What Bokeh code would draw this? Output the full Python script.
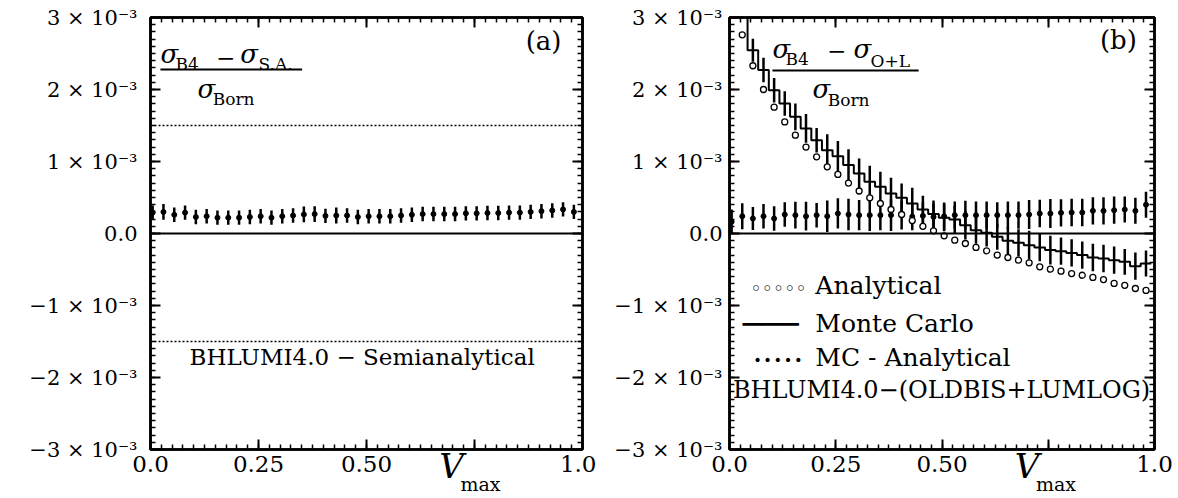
from bokeh.plotting import figure
from bokeh.models import (Range1d, LinearAxis, SingleIntervalTicker, FixedTicker,
                          Label, Span, BoxAnnotation)
from bokeh.layouts import row
from bokeh.embed import file_html
from bokeh.resources import INLINE

FONT = "DejaVu Serif"

# ---------------- data (y values in units of 1e-3) ----------------
V_MAX = [0.005, 0.030, 0.055, 0.080, 0.105, 0.130, 0.155, 0.180, 0.205, 0.230,
         0.255, 0.280, 0.305, 0.330, 0.355, 0.380, 0.405, 0.430, 0.455, 0.480,
         0.505, 0.530, 0.555, 0.580, 0.605, 0.630, 0.655, 0.680, 0.705, 0.730,
         0.755, 0.780, 0.805, 0.830, 0.855, 0.880, 0.905, 0.930, 0.955, 0.980]

# panel (a): BHLUMI4.0 - Semianalytical
SEMI_DIFF = [0.29, 0.30, 0.26, 0.29, 0.23, 0.24, 0.22, 0.22, 0.22, 0.23,
             0.24, 0.22, 0.24, 0.25, 0.265, 0.27, 0.245, 0.25, 0.25, 0.23,
             0.24, 0.24, 0.24, 0.25, 0.26, 0.27, 0.27, 0.27, 0.27, 0.28,
             0.28, 0.285, 0.285, 0.29, 0.29, 0.30, 0.31, 0.32, 0.335, 0.30]
SEMI_ERR = [0.10, 0.11, 0.10, 0.10, 0.10, 0.10, 0.10, 0.10, 0.10, 0.10,
            0.10, 0.10, 0.10, 0.10, 0.11, 0.11, 0.10, 0.11, 0.10, 0.10,
            0.10, 0.10, 0.10, 0.10, 0.10, 0.10, 0.10, 0.10, 0.10, 0.10,
            0.10, 0.10, 0.10, 0.10, 0.10, 0.10, 0.10, 0.10, 0.10, 0.10]
SEMI_BAND = [-1.5, 1.5]

# panel (b): analytical and Monte Carlo start at the second V_max point
ANALYTICAL = [2.76, 2.33, 2.00, 1.755, 1.55, 1.366, 1.20, 1.065, 0.926, 0.82,
              0.70, 0.59, 0.495, 0.417, 0.333, 0.264, 0.18, 0.10, 0.037, -0.032,
              -0.093, -0.139, -0.194, -0.24, -0.30, -0.333, -0.37, -0.407, -0.463, -0.495,
              -0.523, -0.556, -0.58, -0.61, -0.64, -0.694, -0.72, -0.764, -0.79]
MONTE_CARLO = [3.25, 2.546, 2.27, 1.99, 1.806, 1.62, 1.46, 1.296, 1.157, 1.074,
               0.95, 0.833, 0.72, 0.648, 0.556, 0.495, 0.417, 0.333, 0.27, 0.22,
               0.194, 0.116, 0.046, 0.01, -0.046, -0.10, -0.13, -0.162, -0.194, -0.23,
               -0.245, -0.27, -0.30, -0.333, -0.347, -0.37, -0.394, -0.454, -0.417]
MC_ERR = [0.18, 0.16, 0.17, 0.17, 0.17, 0.185, 0.20, 0.17, 0.22, 0.21,
          0.22, 0.21, 0.22, 0.21, 0.22, 0.20, 0.22, 0.19, 0.19, 0.19,
          0.19, 0.20, 0.19, 0.19, 0.18, 0.19, 0.19, 0.20, 0.19, 0.20,
          0.19, 0.19, 0.19, 0.19, 0.19, 0.19, 0.18, 0.19, 0.18]
MC_MINUS_AN = [0.162, 0.24, 0.208, 0.24, 0.208, 0.264, 0.255, 0.24, 0.255, 0.24,
               0.278, 0.264, 0.255, 0.255, 0.255, 0.255, 0.255, 0.235, 0.245, 0.23,
               0.24, 0.255, 0.255, 0.255, 0.255, 0.255, 0.255, 0.255, 0.264, 0.278,
               0.278, 0.287, 0.292, 0.292, 0.315, 0.315, 0.324, 0.333, 0.315, 0.40]
MC_MINUS_AN_ERR = [0.17, 0.18, 0.16, 0.17, 0.17, 0.17, 0.185, 0.20, 0.17, 0.22,
                   0.21, 0.22, 0.21, 0.22, 0.21, 0.22, 0.20, 0.19, 0.19, 0.19,
                   0.19, 0.19, 0.20, 0.19, 0.19, 0.18, 0.19, 0.19, 0.20, 0.19,
                   0.20, 0.19, 0.19, 0.19, 0.19, 0.19, 0.19, 0.18, 0.18, 0.18]
BIN_HALF = 0.0125

Y_TICKS = [-3, -2, -1, 0, 1, 2, 3]
Y_TICK_LABELS = {t: ("0.0" if t == 0 else ("−" if t < 0 else "") + f"{abs(t)} × 10⁻³")
                 for t in Y_TICKS}
X_TICK_LABELS = {0: "0.0", 0.25: "0.25", 0.5: "0.50", 0.75: "", 1: "1.0"}
# axis title V_max (em spaces shift it under the 0.75 tick)
X_TITLE_MAIN = "\u2003" * 5 + "V"
X_TITLE_SUB = "\u2003" * 12 + "max"


def lab(p, x, y, text, size, style="normal", align="left", font=FONT, **kw):
    p.add_layout(Label(x=x, y=y, text=text, text_font=font, text_font_size=size,
                       text_font_style=style, text_align=align, text_baseline="middle",
                       text_color="black", **kw))


def style_axis(ax, standoff=None, size="23px"):
    ax.major_tick_in = 10
    ax.major_tick_out = 0
    ax.minor_tick_in = 5
    ax.minor_tick_out = 0
    ax.major_tick_line_width = 2
    ax.minor_tick_line_width = 1.5
    ax.axis_line_width = 2.5
    ax.axis_line_color = "black"
    ax.major_tick_line_color = "black"
    ax.minor_tick_line_color = "black"
    if standoff is not None:
        ax.major_label_text_font = FONT
        ax.major_label_text_font_size = size
        ax.major_label_text_color = "black"
        ax.major_label_standoff = standoff
    else:
        ax.major_label_text_font_size = "1px"
        ax.major_label_text_color = None
        ax.major_label_standoff = 0


def axis_title(ax, text, size, style, standoff):
    ax.axis_label = text
    ax.axis_label_text_font = FONT
    ax.axis_label_text_font_size = size
    ax.axis_label_text_font_style = style
    ax.axis_label_text_color = "black"
    ax.axis_label_standoff = standoff


def make_panel(frame_w, border_left, border_right, ylab_off):
    p = figure(frame_width=frame_w, frame_height=432,
               min_border_left=border_left, min_border_right=border_right,
               min_border_top=17, min_border_bottom=48,
               x_range=Range1d(0, 1), y_range=Range1d(-3, 3),
               output_backend="svg", toolbar_location=None)
    p.xgrid.visible = False
    p.ygrid.visible = False
    p.outline_line_color = "black"
    p.outline_line_width = 2.5
    p.background_fill_color = "white"
    p.border_fill_color = "white"

    xt = SingleIntervalTicker(interval=0.25, num_minor_ticks=10)
    yt = SingleIntervalTicker(interval=1, num_minor_ticks=10)
    xa, ya = p.xaxis[0], p.yaxis[0]
    xa.ticker = xt
    ya.ticker = yt
    xa.major_label_overrides = X_TICK_LABELS
    ya.major_label_overrides = Y_TICK_LABELS
    style_axis(xa, 6)
    style_axis(ya, ylab_off, "21px")
    axis_title(xa, X_TITLE_MAIN, "34px", "italic", -29)

    # second bottom axis carrying only the subscript "max"
    sub = LinearAxis(ticker=FixedTicker(ticks=[], minor_ticks=[]))
    sub.axis_line_color = None
    sub.major_tick_line_color = None
    sub.minor_tick_line_color = None
    sub.major_tick_in = sub.major_tick_out = 0
    sub.minor_tick_in = sub.minor_tick_out = 0
    sub.major_label_standoff = 0
    axis_title(sub, X_TITLE_SUB, "19px", "normal", -16)
    p.add_layout(sub, "below")

    top = LinearAxis(ticker=xt)
    right = LinearAxis(ticker=yt)
    style_axis(top)
    style_axis(right)
    p.add_layout(top, "above")
    p.add_layout(right, "right")

    p.add_layout(Span(location=0, dimension="width", line_color="black", line_width=2))
    return p


# ---------------- panel (a) ----------------
pa = make_panel(432, 150, 14, 13)
for b in SEMI_BAND:
    pa.add_layout(Span(location=b, dimension="width", line_color="black",
                       line_width=1.5, line_dash="2 2"))
lo = [y - e for y, e in zip(SEMI_DIFF, SEMI_ERR)]
hi = [y + e for y, e in zip(SEMI_DIFF, SEMI_ERR)]
pa.segment(x0=V_MAX, y0=lo, x1=V_MAX, y1=hi, line_color="black", line_width=2.5)
pa.scatter(V_MAX, SEMI_DIFF, marker="circle", size=5, fill_color="black", line_color="black")

lab(pa, 0.023, 2.50, "σ", "26px", style="italic")
lab(pa, 0.058, 2.35, "B4", "17px")
lab(pa, 0.174, 2.44, "−", "23px", align="center")
lab(pa, 0.208, 2.50, "σ", "26px", style="italic")
lab(pa, 0.250, 2.35, "S.A.", "17px")
pa.add_layout(BoxAnnotation(left=0.023, right=0.351, top=2.278, bottom=2.278,
                            fill_alpha=0, line_color="black", line_alpha=1, line_width=2))
lab(pa, 0.109, 2.01, "σ", "26px", style="italic")
lab(pa, 0.144, 1.875, "Born", "17px")
lab(pa, 0.91, 2.67, "(a)", "26px", align="center")
lab(pa, 0.49, -1.72, "BHLUMI4.0 − Semianalytical", "23px", align="center")

# ---------------- panel (b) ----------------
pb = make_panel(425, 133, 20, 7)
v_b = V_MAX[1:]
step_x, step_y = [], []
for x, y in zip(v_b, MONTE_CARLO):
    step_x += [x - BIN_HALF, x + BIN_HALF]
    step_y += [y, y]
pb.line(step_x, step_y, line_color="black", line_width=2)
pb.segment(x0=v_b, y0=[y - e for y, e in zip(MONTE_CARLO, MC_ERR)],
           x1=v_b, y1=[y + e for y, e in zip(MONTE_CARLO, MC_ERR)],
           line_color="black", line_width=2.5)
pb.segment(x0=V_MAX, y0=[y - e for y, e in zip(MC_MINUS_AN, MC_MINUS_AN_ERR)],
           x1=V_MAX, y1=[y + e for y, e in zip(MC_MINUS_AN, MC_MINUS_AN_ERR)],
           line_color="black", line_width=2.5)
pb.scatter(V_MAX, MC_MINUS_AN, marker="circle", size=5, fill_color="black", line_color="black")
pb.scatter(v_b, ANALYTICAL, marker="circle", size=6, fill_color="white",
           line_color="black", line_width=1.3)

lab(pb, 0.101, 2.556, "σ", "26px", style="italic")
lab(pb, 0.132, 2.43, "B4", "17px")
lab(pb, 0.252, 2.54, "−", "23px", align="center")
lab(pb, 0.292, 2.556, "σ", "26px", style="italic")
lab(pb, 0.332, 2.40, "O+L", "17px")
pb.add_layout(BoxAnnotation(left=0.101, right=0.445, top=2.264, bottom=2.264,
                            fill_alpha=0, line_color="black", line_alpha=1, line_width=2))
lab(pb, 0.195, 2.01, "σ", "26px", style="italic")
lab(pb, 0.231, 1.85, "Born", "17px")
lab(pb, 0.915, 2.69, "(b)", "26px", align="center")

lab(pb, 0.049, -0.75, "◦◦◦◦◦", "19px", font="DejaVu Sans")
lab(pb, 0.031, -1.25, "───", "31px", font="DejaVu Sans Mono")
lab(pb, 0.054, -1.75, "·····", "32px")
lab(pb, 0.202, -0.72, "Analytical", "25px")
lab(pb, 0.202, -1.25, "Monte Carlo", "25px")
lab(pb, 0.202, -1.72, "MC - Analytical", "25px")
lab(pb, 0.499, -2.18, "BHLUMI4.0−(OLDBIS+LUMLOG)", "24px", align="center")

layout = row(pa, pb)
open("out.html", "w").write(file_html(layout, INLINE))
